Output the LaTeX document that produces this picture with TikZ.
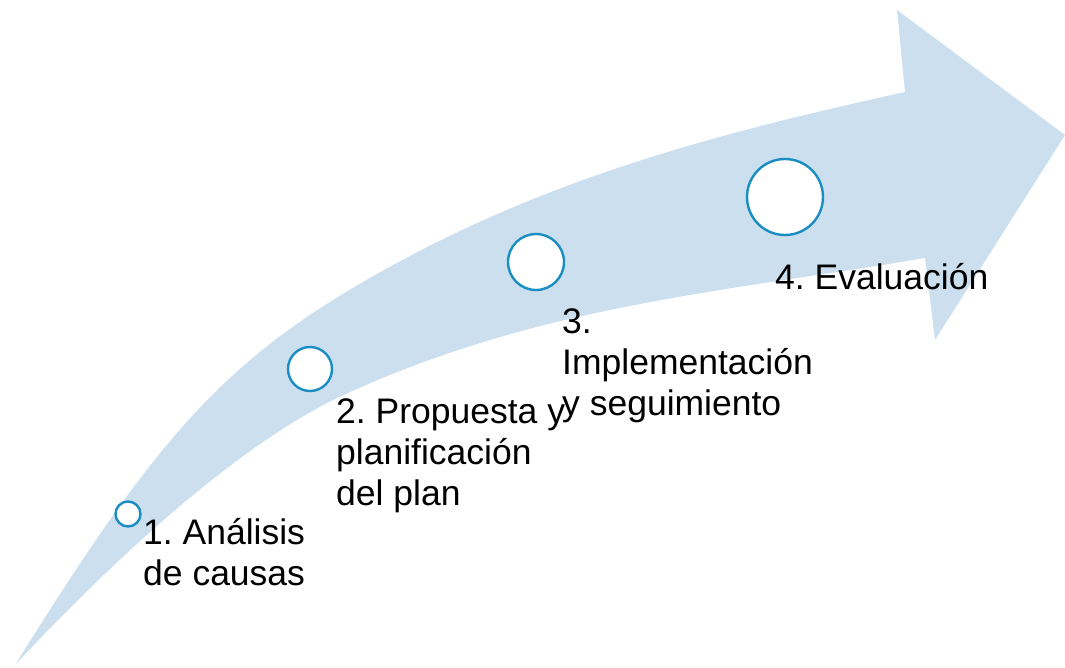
\documentclass[tikz,border=0pt]{standalone}
\usepackage{fontspec}
\setmainfont{Liberation Sans}
\frenchspacing
\definecolor{arrowfill}{RGB}{204,223,238}
\definecolor{ringblue}{RGB}{26,141,195}
\begin{document}
\begin{tikzpicture}[x=1pt,y=-1pt,
  ring/.style={circle,draw=ringblue,line width=2.4pt,fill=white,inner sep=0pt},
  label/.style={anchor=base west,align=left,inner sep=0pt,font=\fontsize{35.5}{41}\selectfont}]
\useasboundingbox (0,0) rectangle (1065,667);
\fill[arrowfill] (15,665)
  .. controls (135,473) and (203,381) .. (333,300)
  .. controls (523,182) and (715,134) .. (905,92)
  -- (897,10) -- (1065,135) -- (935,340) -- (925,258)
  .. controls (725,292) and (533,305) .. (333,400)
  .. controls (233,450) and (115,558) .. (15,665) -- cycle;
\node[ring,minimum size=25pt] (c1) at (128,514) {};
\node[ring,minimum size=44pt] (c2) at (310,369) {};
\node[ring,minimum size=56pt] (c3) at (536,262) {};
\node[ring,minimum size=76pt] (c4) at (785,197) {};
\node[label] (t1) at (143,585) {1. Análisis\\de causas};
\node[label] (t2) at (336,505) {2. Propuesta y\\planificación\\del plan};
\node[label] (t3) at (562,415) {3.\\Implementación\\y seguimiento};
\node[label] (t4) at (775,289) {4. Evaluación};
\end{tikzpicture}
\end{document}
